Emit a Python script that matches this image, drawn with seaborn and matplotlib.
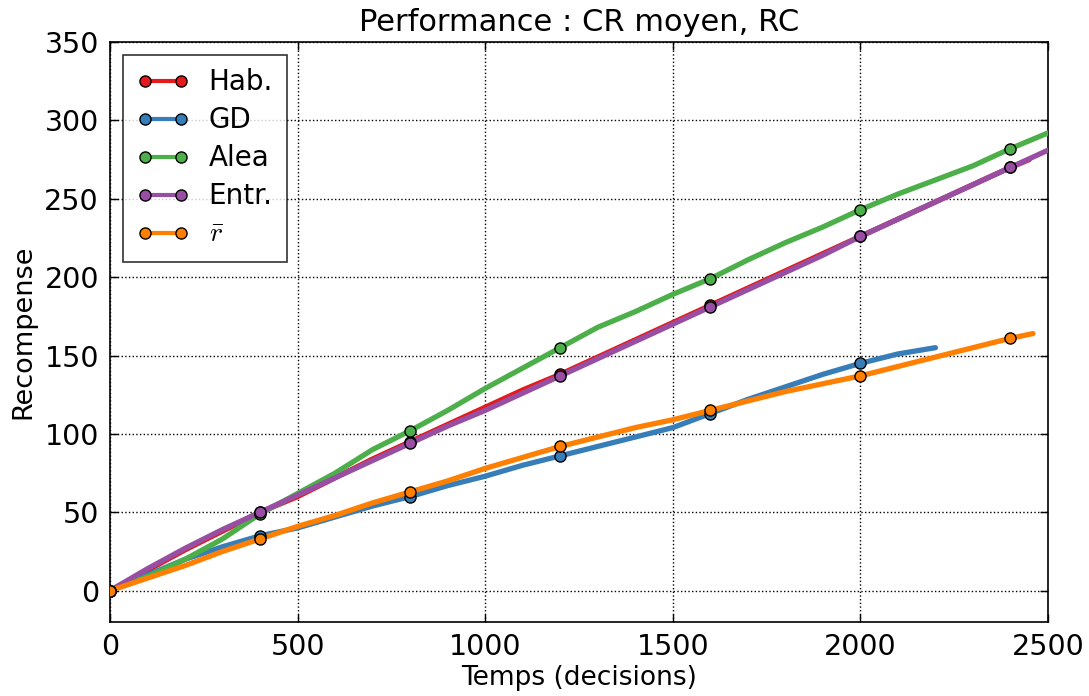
#!/usr/bin/env python3

import matplotlib
matplotlib.use('Agg')
from matplotlib.lines import Line2D
import matplotlib.pyplot as plt
import pandas as pd
import seaborn as sns


STEPS = list(range(0, 2600, 100))
HAB_T = list(range(0, 2500, 100)) + [2450]
HAB = [0, 13, 26, 38, 50, 60, 72, 84, 95, 106, 117, 128, 138, 149, 160,
       171, 182, 193, 204, 215, 226, 237, 248, 259, 270, 275]
GD_T = list(range(0, 2300, 100))
GD = [0, 10, 20, 28, 35, 40, 47, 54, 60, 67, 73, 80, 86, 92, 98, 104,
      113, 122, 130, 138, 145, 151, 155]
ALEA = [0, 9, 20, 33, 49, 62, 75, 90, 102, 115, 129, 142, 155, 168, 178,
        189, 199, 211, 222, 232, 243, 253, 262, 271, 282, 292]
ENTR = [0, 14, 27, 39, 50, 61, 72, 83, 94, 105, 115, 126, 137, 148, 159,
        170, 181, 192, 203, 214, 226, 237, 248, 259, 270, 281]
RBAR_T = list(range(0, 2500, 100)) + [2460]
RBAR = [0, 8, 16, 25, 33, 41, 48, 56, 63, 70, 78, 85, 92, 98, 104, 109,
        115, 121, 127, 132, 137, 143, 149, 155, 161, 164]

LABELS = ['Hab.', 'GD', 'Alea', 'Entr.', r'$\bar{r}$']
COLORS = ['#e41a1c', '#377eb8', '#4daf4a', '#984ea3', '#ff7f00']
MARK_EVERY = 400


def build_data():
    series = [(HAB_T, HAB), (GD_T, GD), (STEPS, ALEA), (STEPS, ENTR),
              (RBAR_T, RBAR)]
    dfs = []
    for label, (t, v) in zip(LABELS, series):
        df = pd.DataFrame({'t': t, 'v': v})
        df['algo'] = label
        dfs.append(df)
    return pd.concat(dfs, ignore_index=True)


def main():
    data = build_data()

    sns.set_theme(style='white')
    plt.rcParams['font.family'] = ['DejaVu Sans']
    plt.rcParams['mathtext.fontset'] = 'cm'
    plt.rcParams['text.color'] = 'black'
    plt.rcParams['axes.labelcolor'] = 'black'
    plt.rcParams['xtick.color'] = 'black'
    plt.rcParams['ytick.color'] = 'black'

    fig = plt.figure(figsize=(10.89, 6.96), dpi=100)
    ax = fig.add_axes([110 / 1089, 1 - 622 / 696, 938 / 1089, 580 / 696])

    for label, color in zip(LABELS, COLORS):
        sub = data[data.algo == label]
        sns.lineplot(ax=ax, data=sub, x='t', y='v', color=color, lw=3.8,
                     legend=False, zorder=3)
        marks = sub[sub.t % MARK_EVERY == 0]
        ax.plot(marks.t, marks.v, 'o', color=color, ms=8, mec='black',
                mew=1, zorder=4)

    ax.set_xlim(0, 2500)
    ax.set_ylim(-20, 350)
    ax.set_xticks(range(0, 2501, 500))
    ax.set_yticks(range(0, 351, 50))
    ax.grid(True, color='black', linestyle=':', linewidth=1)
    ax.tick_params(direction='in', length=6, width=1, labelsize=20.5,
                   top=True, right=True, bottom=True, left=True, pad=8)
    for sp in ax.spines.values():
        sp.set_color('black')
        sp.set_linewidth(1.2)
    ax.set_xlabel('Temps (decisions)', fontsize=19, labelpad=3)
    ax.set_ylabel('Recompense', fontsize=19.5, labelpad=6)
    ax.set_title('Performance : CR moyen, RC', fontsize=22, pad=8)

    handles = [Line2D([0], [0], color=c, lw=3, marker='o', ms=8,
                      mec='black', mew=1) for c in COLORS]
    leg = ax.legend(handles, LABELS, loc='upper left', numpoints=2,
                    fontsize=20, frameon=True, fancybox=False,
                    handlelength=1.9, borderpad=0.5, labelspacing=0.36,
                    handletextpad=0.7, borderaxespad=0.45)
    leg.get_frame().set_edgecolor('black')
    leg.get_frame().set_linewidth(1.2)

    fig.savefig('out.png', dpi=100, facecolor='white')


if __name__ == '__main__':
    main()
